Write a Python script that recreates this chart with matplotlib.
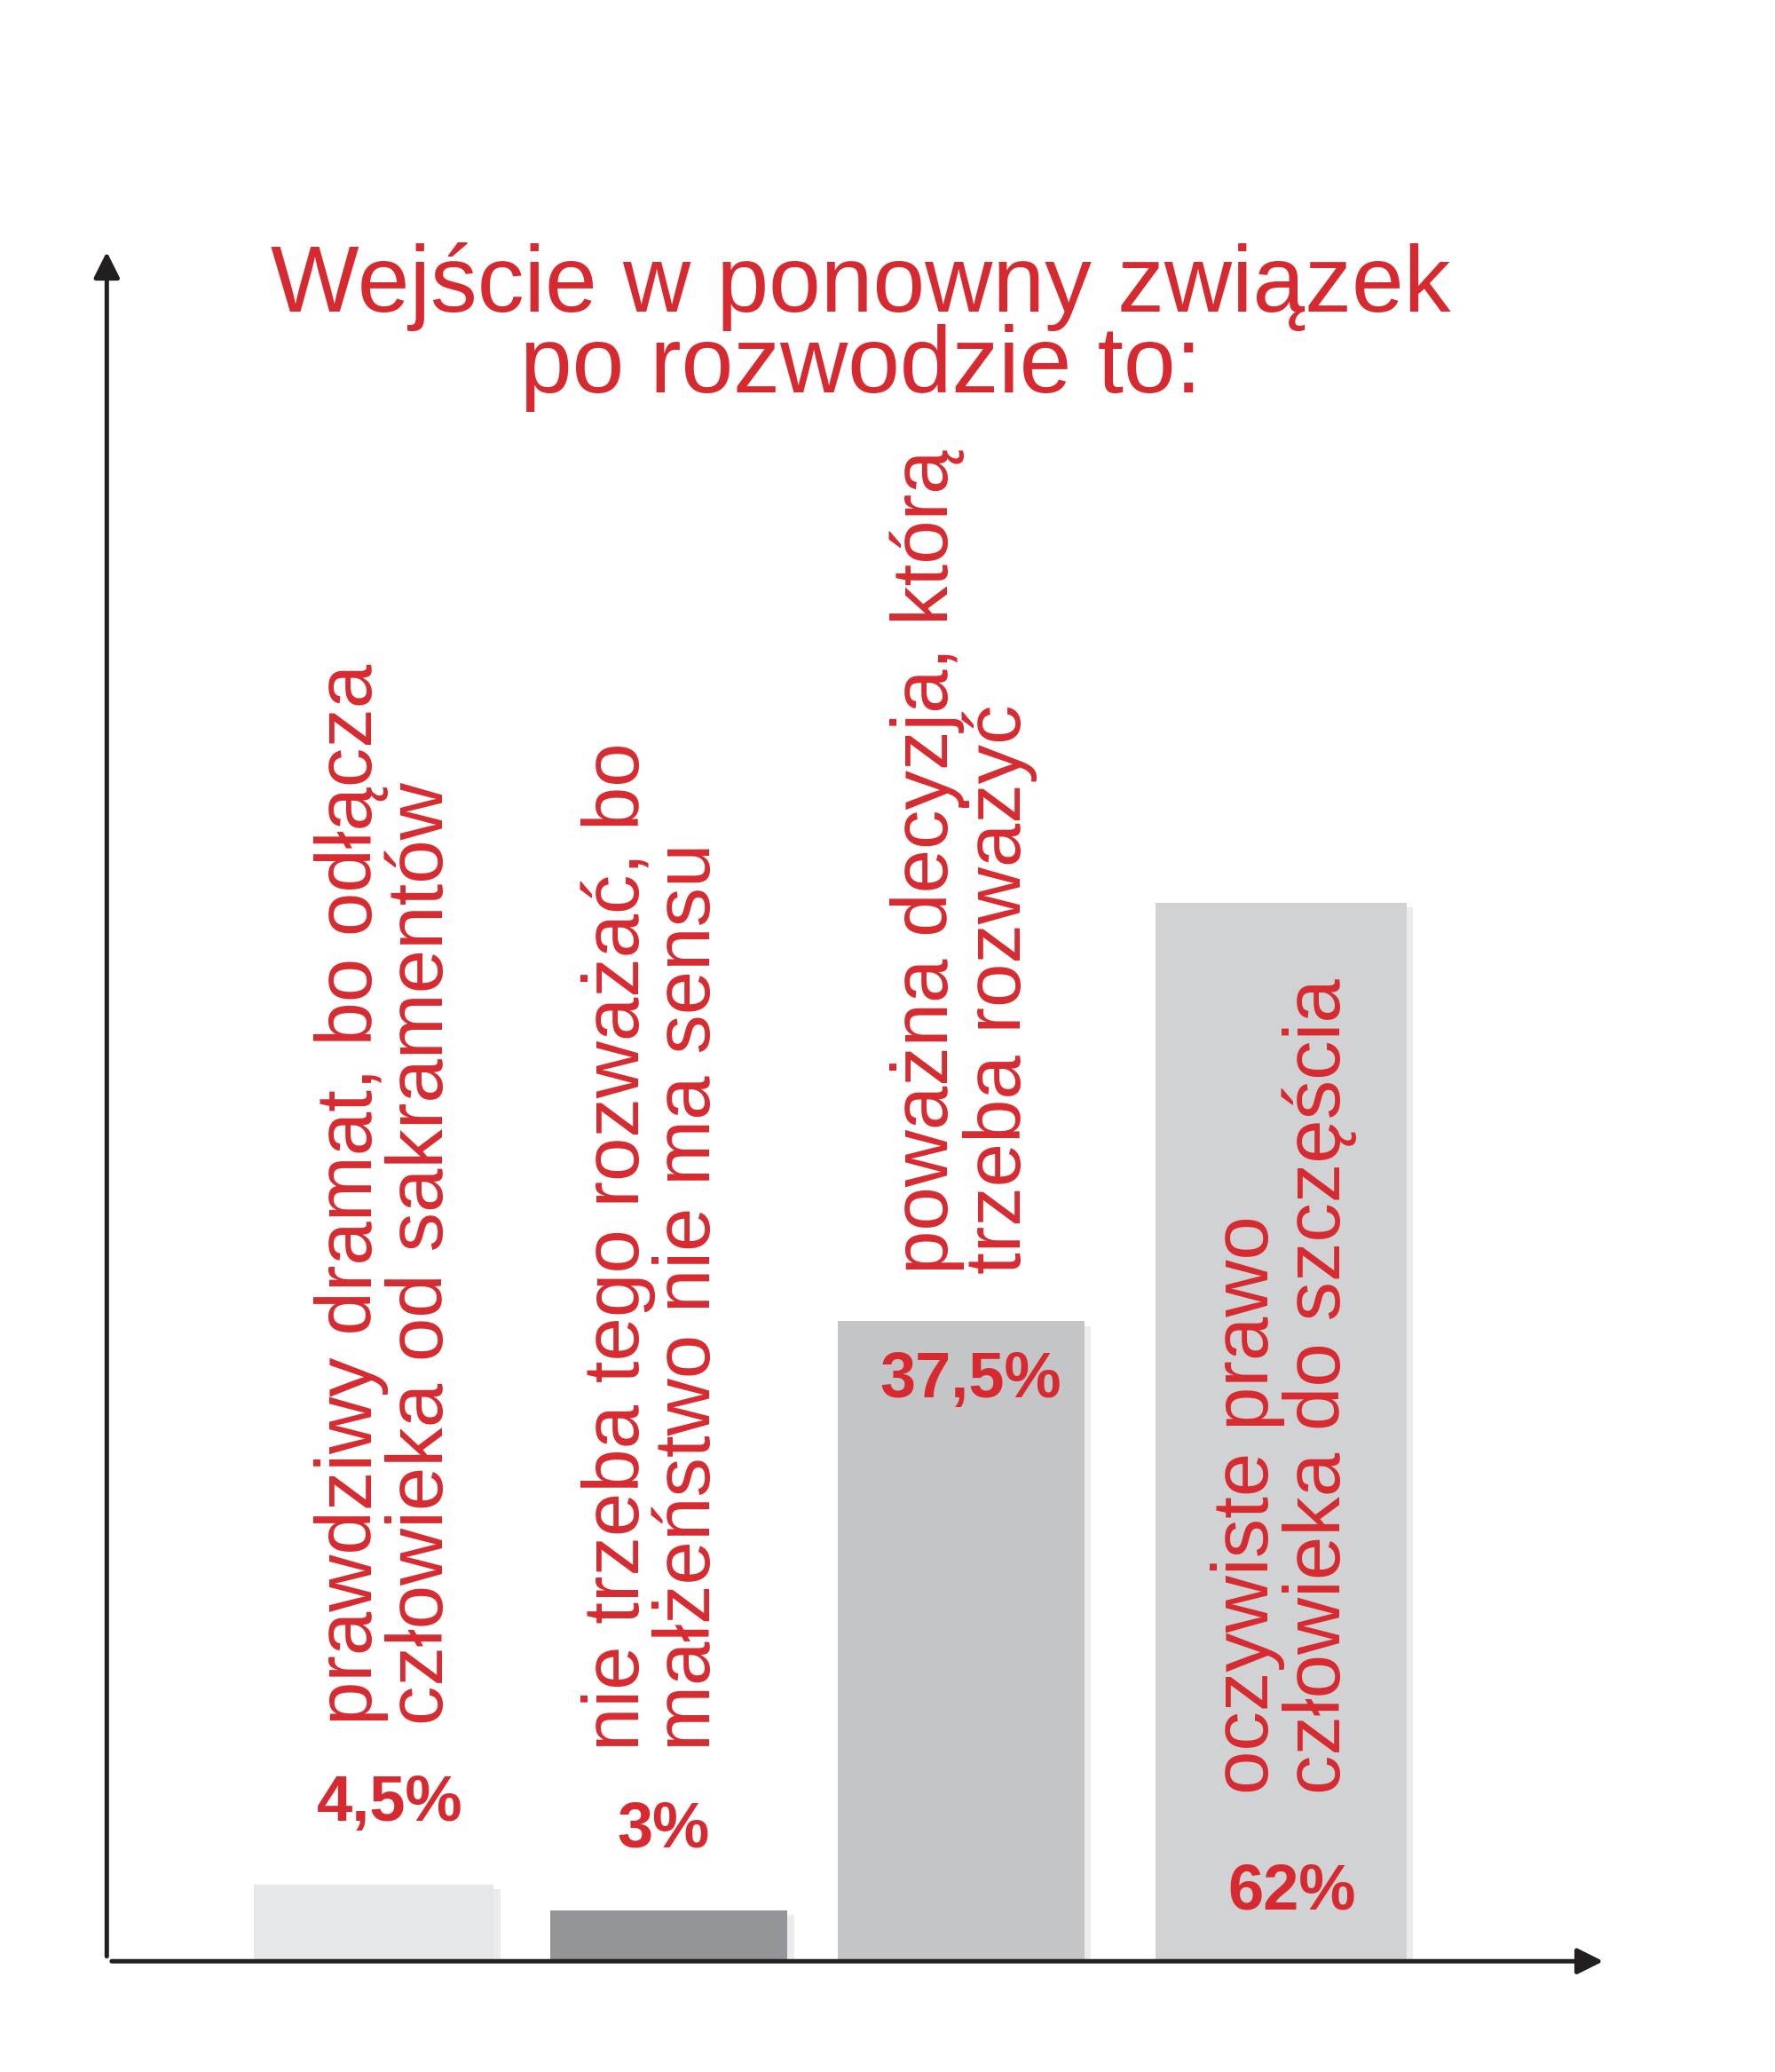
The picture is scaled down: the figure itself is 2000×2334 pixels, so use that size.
import matplotlib
matplotlib.use("Agg")
import matplotlib.pyplot as plt

# data
categories = [
    "prawdziwy dramat, bo odłącza\nczłowieka od sakramentów",
    "nie trzeba tego rozważać, bo\nmałżeństwo nie ma sensu",
    "poważna decyzja, którą\ntrzeba rozważyć",
    "oczywiste prawo\nczłowieka do szczęścia",
]
values = [4.5, 3, 37.5, 62]
value_labels = ["4,5%", "3%", "37,5%", "62%"]

bar_colors = ["#e6e7e8", "#939598", "#c4c5c7", "#d1d2d4"]
red = "#d62a30"
font = ["Liberation Sans Narrow", "Liberation Sans", "DejaVu Sans"]

W, H = 1330, 1553  # reference layout units
x0, y0, y_top, x_right = 80, 1470, 185, 1205
px_per_pct = 12.8

fig = plt.figure(figsize=(10, 11.67), dpi=200)
ax = fig.add_axes([x0 / W, (H - y0) / H, (x_right - x0) / W, (y0 - y_top) / H])
ax.set_xlim(0, (x_right - x0) / 100)
ax.set_ylim(0, (y0 - y_top) / px_per_pct)
for s in ax.spines.values():
    s.set_visible(False)
ax.set_xticks([])
ax.set_yticks([])

centers = [(c - x0) / 100 for c in (280, 501, 720, 960)]
widths = [1.8, 1.78, 1.85, 1.88]

def to_pct(yd):
    return (y0 - yd) / px_per_pct

for c, w, v, col in zip(centers, widths, values, bar_colors):
    # soft shadow
    ax.bar(c + 0.05, v, w, bottom=-0.3, color="#ececed", zorder=1)
    ax.bar(c, v, w, color=col, zorder=2)

# axes arrows
ax.annotate("", xy=(0, 1.0), xytext=(0, 0), xycoords="axes fraction",
            arrowprops=dict(arrowstyle="-|>", color="#231f20", lw=1.8, mutation_scale=22))
ax.annotate("", xy=(1.0, 0), xytext=(0, 0), xycoords="axes fraction",
            arrowprops=dict(arrowstyle="-|>", color="#231f20", lw=1.8, mutation_scale=22))

# category labels (rotated)
label_pos = [(290, 1293), (490, 1312), (722, 955), (962, 1345)]
for (xd, yd), txt in zip(label_pos, categories):
    ax.text((xd - x0) / 100, to_pct(yd), txt, rotation=90, ha="center", va="bottom",
            multialignment="left", color=red, fontsize=32, family=font,
            linespacing=0.95, zorder=3)

# value labels
val_pos = [(292, 1352), (497, 1372), (727, 1035), (968, 1418)]
for (xd, yd), txt in zip(val_pos, value_labels):
    ax.text((xd - x0) / 100, to_pct(yd), txt, ha="center", va="center",
            color=red, fontsize=26, fontweight="bold", family=font, zorder=3)

fig.text(645 / W, 1 - 245 / H, "Wejście w ponowny związek\npo rozwodzie to:",
         ha="center", va="center", color=red, fontsize=38, family=font, linespacing=0.9)

fig.savefig("out.png", dpi=200, facecolor="white")
